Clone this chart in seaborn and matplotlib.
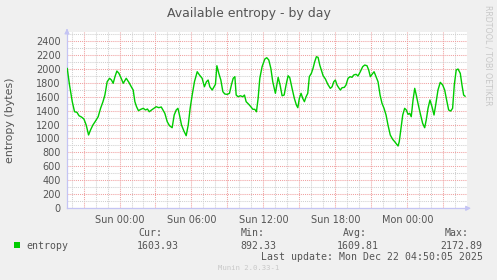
import matplotlib
matplotlib.use("Agg")
import matplotlib.pyplot as plt
from matplotlib.ticker import MultipleLocator, FuncFormatter
from matplotlib.patches import Rectangle
import numpy as np
import pandas as pd
import seaborn as sns

# ---- data: hours relative to Sun 00:00, entropy in bytes ----
hours = [-4.36, -4.17, -3.94, -3.75, -3.55, -3.38, -3.17, -2.97, -2.78, -2.58,
         -2.42, -2.22, -2.0, -1.78, -1.58, -1.38, -1.22, -1.03, -0.83, -0.67,
         -0.53, -0.38, -0.22, -0.05, 0.14, 0.31, 0.56, 0.78, 0.98, 1.14,
         1.28, 1.42, 1.58, 1.78, 1.98, 2.17, 2.33, 2.48, 2.67, 2.87,
         3.06, 3.28, 3.48, 3.78, 3.98, 4.17, 4.39, 4.56, 4.73, 4.87,
         5.0, 5.17, 5.37, 5.56, 5.73, 5.89, 6.06, 6.25, 6.48, 6.67,
         6.89, 7.08, 7.25, 7.39, 7.53, 7.73, 7.89, 8.0, 8.12, 8.28,
         8.45, 8.62, 8.78, 8.98, 9.17, 9.33, 9.48, 9.62, 9.73, 9.89,
         10.08, 10.28, 10.42, 10.56, 10.78, 10.95, 11.12, 11.28, 11.42, 11.56,
         11.7, 11.89, 12.12, 12.28, 12.45, 12.62, 12.78, 13.0, 13.23, 13.39,
         13.56, 13.73, 13.89, 14.06, 14.2, 14.39, 14.58, 14.75, 14.87, 15.0,
         15.14, 15.28, 15.42, 15.56, 15.7, 15.83, 16.0, 16.14, 16.28, 16.42,
         16.56, 16.7, 16.83, 16.98, 17.17, 17.37, 17.58, 17.73, 17.87, 18.0,
         18.14, 18.28, 18.42, 18.56, 18.75, 18.89, 19.06, 19.23, 19.39, 19.53,
         19.73, 19.89, 20.08, 20.28, 20.45, 20.64, 20.78, 20.92, 21.06, 21.23,
         21.39, 21.56, 21.73, 21.89, 22.06, 22.23, 22.39, 22.58, 22.78, 22.95,
         23.12, 23.23, 23.33, 23.48, 23.62, 23.78, 23.92, 24.06, 24.2, 24.33,
         24.48, 24.62, 24.75, 24.89, 25.08, 25.28, 25.45, 25.58, 25.73, 25.89,
         26.06, 26.23, 26.39, 26.56, 26.75, 26.95, 27.12, 27.28, 27.45, 27.62,
         27.78, 27.92, 28.08, 28.23, 28.42, 28.56, 28.7, 28.83]
entropy = [2005, 1766, 1527, 1383, 1375, 1326, 1307, 1279, 1193, 1050,
           1121, 1193, 1250, 1312, 1432, 1527, 1622, 1813, 1862, 1837,
           1790, 1885, 1966, 1933, 1862, 1790, 1862, 1804, 1741, 1694,
           1527, 1455, 1398, 1418, 1432, 1408, 1422, 1383, 1408, 1432,
           1455, 1441, 1451, 1360, 1240, 1183, 1154, 1336, 1408, 1432,
           1336, 1193, 1107, 1040, 1193, 1432, 1622, 1813, 1956, 1909,
           1862, 1741, 1813, 1837, 1741, 1694, 1741, 1776, 2042, 1933,
           1837, 1670, 1637, 1632, 1647, 1766, 1862, 1885, 1622, 1598,
           1612, 1598, 1622, 1527, 1489, 1455, 1418, 1418, 1383, 1575,
           1862, 2028, 2138, 2157, 2124, 2005, 1813, 1647, 1876, 1766,
           1612, 1622, 1766, 1899, 1871, 1718, 1575, 1479, 1441, 1575,
           1647, 1575, 1527, 1598, 1647, 1885, 1933, 2005, 2100, 2171,
           2162, 2052, 1981, 1899, 1852, 1776, 1718, 1741, 1813, 1837,
           1766, 1727, 1694, 1727, 1732, 1766, 1862, 1885, 1876, 1909,
           1919, 1895, 1956, 2028, 2052, 2042, 1981, 1885, 1919, 1956,
           1885, 1813, 1622, 1504, 1432, 1336, 1193, 1050, 988, 954,
           916, 892, 954, 1146, 1336, 1432, 1408, 1346, 1360, 1312,
           1551, 1718, 1622, 1504, 1360, 1217, 1154, 1264, 1432, 1551,
           1455, 1336, 1504, 1694, 1804, 1766, 1694, 1551, 1408, 1393,
           1432, 1766, 1981, 1995, 1933, 1766, 1622, 1604]

tick_hours = [0, 6, 12, 18, 24]
tick_labels = ["Sun 00:00", "Sun 06:00", "Sun 12:00", "Sun 18:00", "Mon 00:00"]

legend_name = "entropy"
stat_headers = ["Cur:", "Min:", "Avg:", "Max:"]
stat_values = ["1603.93", "892.33", "1609.81", "2172.89"]
last_update = "Last update: Mon Dec 22 04:50:05 2025"
title = "Available entropy - by day"
ylabel = "entropy (bytes)"
watermark = "RRDTOOL / TOBI OETIKER"
footer = "Munin 2.0.33-1"

# ---- style ----
sns.set_style("white")
plt.rcParams["font.family"] = ["DejaVu Sans"]

W, H = 497, 280
TXT = "#555555"
GREEN = "#00cc00"
MGRID = "#f0a0a0"
GRID = "#d0d0d0"
AXC = "#c4c4f4"
MONO = "DejaVu Sans Mono"


def fx(x):
    return x / W


def fy(y):
    return 1 - y / H


fig = plt.figure(figsize=(W / 100, H / 100), dpi=100, facecolor="#f0f0f0")
left, right, top, bottom = 67, 467, 32, 208.3
ax = fig.add_axes([fx(left), fy(bottom), (right - left) / W, (bottom - top) / H])
ax.set_facecolor("white")

df = pd.DataFrame({"hours": hours, "entropy": entropy})
sns.lineplot(data=df, x="hours", y="entropy", ax=ax, color=GREEN,
             linewidth=1.0, zorder=3)

ax.set_xlim(-4.38, 28.98)
ax.set_ylim(0, 2525)

label_map = dict(zip(tick_hours, tick_labels))
ax.xaxis.set_major_locator(MultipleLocator(3))
ax.xaxis.set_minor_locator(MultipleLocator(1))
ax.xaxis.set_major_formatter(FuncFormatter(lambda v, p: label_map.get(int(round(v)), "")))
ax.yaxis.set_major_locator(MultipleLocator(200))
ax.yaxis.set_minor_locator(MultipleLocator(100))
ax.yaxis.set_major_formatter(FuncFormatter(lambda v, p: f"{int(v)}"))

ax.grid(which="major", color=MGRID, linestyle=(0, (1, 1)), linewidth=0.75)
ax.grid(which="minor", color=GRID, linestyle=(0, (1, 1)), linewidth=0.75)
ax.set_axisbelow(True)

for s in ["top", "right"]:
    ax.spines[s].set_visible(False)
for s in ["left", "bottom"]:
    ax.spines[s].set_color(AXC)
    ax.spines[s].set_linewidth(0.9)

ax.tick_params(axis="x", which="major", length=3, width=0.75, color=MGRID,
               pad=1.5, labelsize=7, labelcolor=TXT)
ax.tick_params(axis="x", which="minor", length=1.5, width=0.75, color=GRID)
ax.tick_params(axis="y", which="major", length=2, width=0.75, color=MGRID,
               pad=2.5, labelsize=7, labelcolor=TXT)
ax.tick_params(axis="y", which="minor", length=1.5, width=0.75, color=GRID)
ax.set_xlabel("")
ax.set_ylabel("")

# axis arrows
ax.annotate("", xy=(0, 1.035), xytext=(0, 0.99), xycoords="axes fraction",
            arrowprops=dict(arrowstyle="-|>", color=AXC, lw=0.9, mutation_scale=7),
            annotation_clip=False)
ax.annotate("", xy=(1.017, 0), xytext=(0.99, 0), xycoords="axes fraction",
            arrowprops=dict(arrowstyle="-|>", color=AXC, lw=0.9, mutation_scale=7),
            annotation_clip=False)

# texts
fig.text(fx(249), fy(13.3), title, ha="center", va="center", fontsize=9, color=TXT)
fig.text(fx(10), fy(120), ylabel, ha="center", va="center", rotation=90,
         fontsize=7.9, color=TXT)
fig.text(fx(488), fy(5), watermark, ha="center", va="top", rotation=270,
         fontsize=5.7, color="#c8c8c8")

fig.patches.append(Rectangle((fx(14), fy(248.3)), 6 / W, 6 / H, transform=fig.transFigure,
                             facecolor=GREEN, edgecolor="none"))
fig.text(fx(26.7), fy(246), legend_name, ha="left", va="center", fontsize=7.1,
         family=MONO, color=TXT)

hdr_right = [162.3, 265, 367, 469]
val_right = [178.3, 276, 379, 482.7]
for h, xr in zip(stat_headers, hdr_right):
    fig.text(fx(xr), fy(233.3), h, ha="right", va="center", fontsize=7.1,
             family=MONO, color=TXT)
for v, xr in zip(stat_values, val_right):
    fig.text(fx(xr), fy(246), v, ha="right", va="center", fontsize=7.1,
             family=MONO, color=TXT)
fig.text(fx(482.7), fy(257.3), last_update, ha="right", va="center", fontsize=7.1,
         family=MONO, color=TXT)
fig.text(fx(248.5), fy(268.3), footer, ha="center", va="center", fontsize=5.2,
         family=MONO, color="#c8c8c8")

fig.savefig("out.png", dpi=100, facecolor=fig.get_facecolor())
